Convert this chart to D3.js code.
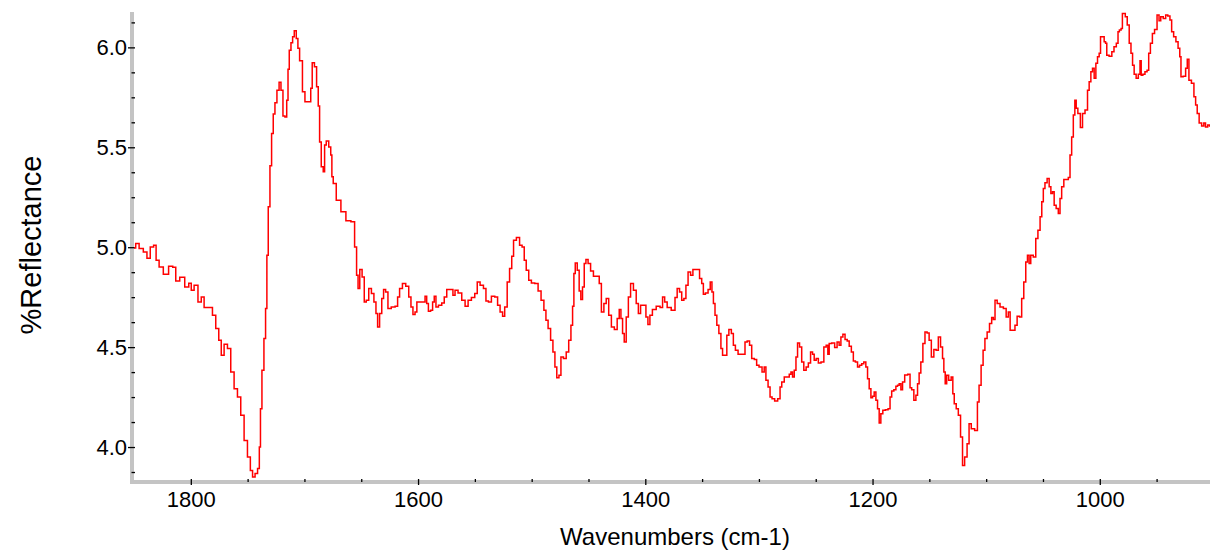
<!DOCTYPE html>
<html>
<head>
<meta charset="utf-8">
<script src="https://cdn.jsdelivr.net/npm/d3@7/dist/d3.min.js"></script>
<style>
  html, body { margin: 0; padding: 0; background: #ffffff; }
  svg { display: block; }
  text { font-family: "Liberation Sans", Arial, sans-serif; fill: #000; }
</style>
</head>
<body>
<svg id="chart" width="1210" height="551"></svg>
<script>
// ---- data ----
const wavenumbers = [
1850,1847,1844,1839.6,1837.6,1833.8,1831.7,1829.4,1826.4,1822,
1817.1,1814.7,1811.8,1807.7,1803,1800.6,1798.6,1795.6,1791.8,1789.8,
1786.8,1782.4,1779.5,1776.6,1774.2,1772.2,1769.2,1766.3,1763.4,1760.4,
1757.5,1754.6,1751.6,1748.7,1746.5,1744.8,1742.1,1740.4,1739,1738.4,
1736.4,1734.9,1733.5,1732.6,1731.1,1729.6,1728.2,1726.7,1725.2,1723.2,
1721.4,1719.9,1717.9,1716.4,1714.8,1714.1,1712.6,1711.1,1709.7,1708.2,
1706.2,1705.3,1703.2,1700.3,1698.8,1695,1693.9,1692.4,1690,1688.6,
1687.1,1686.2,1684.2,1682.7,1681.8,1679.8,1677.4,1676.3,1675.4,1673.9,
1670.1,1665.7,1661.3,1656.9,1654.8,1653.4,1652.2,1650.4,1648.1,1646.6,
1644.6,1642.2,1639.9,1637.8,1636.3,1634.9,1632.8,1631.1,1629.6,1627.5,
1625.5,1621.7,1618.7,1617.3,1615.2,1612.3,1609.4,1607,1605.5,1603.5,
1601.8,1600.3,1594.7,1593,1591.8,1590,1587.9,1586.5,1585,1583.5,
1580.6,1577.7,1576.2,1573.3,1570.3,1568.3,1566.6,1563,1560.1,1557.1,
1554.8,1551.3,1548.9,1546.9,1543.9,1541,1539.5,1536.6,1534.3,1530.7,
1529.3,1526.3,1524.9,1522.6,1520.5,1518.4,1516.7,1515.2,1511.7,1509.6,
1507.3,1505.8,1503.8,1501.4,
1499.1,1495.5,1493.2,1490.3,1488.2,1486.7,1484.4,1482.3,1480.3,1478.8,
1477,1475,1473.5,1470.6,1468.6,1466.2,1464.7,1463.3,1462.4,1460.9,
1458.9,1457.5,1456,1454.5,1453,1451.5,1449.2,1447.1,1444.2,1441.3,
1439.8,1437.5,1435.4,1433.4,1431,1428.7,1425.8,1423.7,1422.2,1420.7,
1419.3,1417.8,1415.8,1414,1411.9,1409,1407,1405.2,1403.1,1400.2,
1398.7,1396.7,1395.2,1392.3,1388.5,1385.5,1384.1,1381.8,1379.7,1374.7,
1373,1370.9,1368.8,1367.1,1365,1363.5,1361.2,1359.1,1357.1,1353.3,
1351.2,1349.5,1348.3,1345.9,1343.6,1342.1,1340.6,1339.5,1337.8,1336.3,
1334.2,1332.7,1331.3,1329,1327.5,1325.4,
1323.1,1321.9,1319.5,1317.2,1313.1,1311.4,1309.3,1307.2,1305.5,1302.6,
1301.4,1298.4,1296.1,1294.6,1293.1,1290.8,1289.6,1287.3,1285,1282,
1280.8,1279,1276.4,1274.1,1272.5,1271.1,1269.7,1268.1,1266.7,1265.3,
1263.2,1261.5,1259.5,1257.4,1255.6,1253.5,1252.1,1250.6,1248.6,1246.8,
1243.9,1241.8,1239.8,1238.9,1237.4,1234.5,1232.2,1230.2,1228.6,1227.1,
1225.1,1223.3,1221.3,1219.8,1217.5,1216.3,1213.9,1212.5,1210.4,1208.7,
1206.7,1205.1,1203.7,1202.2,1200.7,1199.3,1197.8,1196.3,1194.9,1193.4,
1192,1189.9,1187.5,1185.2,1184,1182.3,1180.2,1178.7,1177.3,1175.8,
1174.3,1172.9,1170.5,1167.6,1166.4,1164.7,1162.6,1161.1,1159.7,1158.3,
1156.7,1154.7,1153,1151,1149.4,
1147.1,1145,1143,1141.2,1139.1,1137.7,1136.8,1135.3,1134.2,1131.8,
1129.8,1128.9,1127.3,1125.4,1123.6,1121.5,1120.1,1117.8,1115.8,1114.3,
1111.9,1108.4,1107,1105.5,1103.4,1102,1100.2,1098.1,1096,1094.3,
1093.1,1091.3,1089.3,1086.3,1083.4,1081.4,1079.6,1078.2,1075.5,1073.8,
1071.7,1069.6,1067.9,1065.9,1064.4,1062.9,1061.5,1060,1057.1,1055.6,
1053.3,1051.8,1050.3,1049.1,1047.4,1045.3,1043.8,1042.3,1040.9,1039.4,
1037.4,1035.6,1034.4,1032.7,1030.6,1028.6,1026.8,1025.6,1023.9,1022.7,
1021.2,1020.3,1018.3,1015.9,1014.5,1011.5,1010.1,
1008.6,1007.1,1005.7,1004.2,1002.7,1001.3,999.8,998.9,996.9,995.4,
994.4,993.3,990.3,988.5,986.5,984.4,983.5,982,980.5,979.7,
978.3,976.8,974.9,973.3,971.8,970.5,969,967,965.2,964,
963.1,961.1,959.4,957.4,956.5,954.4,953,950.6,948.6,947.1,
945.6,942.7,941.3,939,937.5,936,934,932,930.2,929,
928.1,925.2,923.7,922.3,920.8,917.9,916.4,914.9,913.6,911.5,
909.2,907.7,906.2,903.9,903
];

const reflectance = [
4.996,5.018,4.993,4.976,4.945,5.001,5.010,4.935,4.901,4.865,
4.905,4.900,4.831,4.850,4.801,4.820,4.785,4.810,4.726,4.751,
4.698,4.698,4.659,4.593,4.534,4.459,4.514,4.493,4.375,4.292,
4.250,4.159,4.033,3.950,3.883,3.850,3.868,3.893,4.000,4.192,
4.384,4.543,4.693,4.960,5.202,5.407,5.569,5.666,5.723,5.786,
5.825,5.786,5.656,5.652,5.736,5.890,5.986,6.023,6.053,6.083,
6.045,5.995,5.933,5.778,5.728,5.728,5.795,5.923,5.903,5.803,
5.706,5.527,5.402,5.377,5.511,5.532,5.502,5.461,5.352,5.319,
5.235,5.177,5.132,5.127,5.001,4.860,4.793,4.888,4.851,4.726,
4.734,4.793,4.768,4.726,4.668,4.601,4.668,4.743,4.788,4.776,
4.693,4.701,4.704,4.751,4.793,4.818,4.805,4.751,4.701,4.663,
4.676,4.726,4.726,4.755,4.718,4.679,4.684,4.726,4.755,4.701,
4.709,4.721,4.751,4.788,4.788,4.760,4.785,4.771,4.734,4.704,
4.734,4.748,4.768,4.826,4.810,4.793,4.731,4.726,4.755,4.751,
4.709,4.676,4.654,4.701,4.826,4.893,4.955,5.035,5.048,5.010,
5.001,4.935,4.885,4.835,
4.821,4.818,4.781,4.734,4.684,4.634,4.593,4.534,4.476,4.400,
4.347,4.359,4.451,4.443,4.476,4.534,4.609,4.704,4.868,4.921,
4.885,4.781,4.738,4.801,4.918,4.938,4.918,4.881,4.855,4.855,
4.818,4.676,4.718,4.743,4.659,4.601,4.588,4.643,4.688,4.643,
4.568,4.526,4.651,4.751,4.818,4.785,4.718,4.668,4.709,4.709,
4.651,4.613,4.659,4.688,4.704,4.698,4.751,4.726,4.698,4.684,
4.748,4.793,4.776,4.734,4.743,4.810,4.876,4.860,4.888,4.888,
4.843,4.818,4.765,4.771,4.788,4.826,4.776,4.718,4.659,4.609,
4.568,4.493,4.459,4.459,4.559,4.588,
4.568,4.509,4.484,4.464,4.464,4.526,4.531,4.509,4.443,4.438,
4.409,4.400,4.375,4.400,4.334,4.300,4.250,4.242,4.230,4.242,
4.300,4.325,4.350,4.350,4.364,4.375,4.350,4.384,4.451,4.521,
4.501,4.425,4.384,4.400,4.420,4.476,4.464,4.434,4.443,4.420,
4.425,4.501,4.509,4.464,4.518,4.521,4.498,4.526,4.509,4.551,
4.564,4.538,4.531,4.504,4.476,4.430,4.425,4.400,4.409,4.417,
4.425,4.400,4.342,4.292,4.247,4.254,4.275,4.234,4.192,4.120,
4.167,4.184,4.187,4.192,4.250,4.280,4.287,4.304,4.309,4.317,
4.287,4.325,4.360,4.364,4.297,4.287,4.234,4.259,4.317,4.370,
4.425,4.518,4.576,4.571,4.534,
4.451,4.488,4.484,4.551,4.501,4.443,4.375,4.317,4.359,4.334,
4.350,4.267,4.217,4.192,4.159,4.050,3.908,3.950,4.017,4.117,
4.092,4.083,4.225,4.309,4.409,4.484,4.543,4.576,4.618,4.648,
4.638,4.734,4.718,4.701,4.693,4.651,4.676,4.584,4.584,4.609,
4.654,4.651,4.743,4.826,4.926,4.960,4.918,4.960,4.951,5.043,
5.085,5.152,5.227,5.294,5.322,5.344,5.302,5.269,5.277,5.210,
5.194,5.169,5.244,5.302,5.339,5.339,5.349,5.461,5.552,5.661,
5.736,5.695,5.669,5.599,5.669,5.686,5.786,
5.828,5.878,5.895,5.845,5.920,5.953,5.970,6.053,6.053,6.028,
6.020,5.961,5.956,5.978,6.003,6.020,6.078,6.087,6.095,6.170,
6.170,6.153,6.112,6.020,5.970,5.911,5.866,5.845,5.866,5.933,
5.861,5.866,5.878,5.886,5.970,6.020,6.070,6.090,6.162,6.133,
6.153,6.145,6.162,6.157,6.137,6.078,6.053,6.028,5.995,5.953,
5.853,5.856,5.895,5.940,5.836,5.820,5.753,5.711,5.669,5.622,
5.606,5.622,5.602,5.611,5.606
];

const xMajorTicks = [1800, 1600, 1400, 1200, 1000];
const xMinorTicks = [1750, 1700, 1650, 1550, 1500, 1450, 1350, 1300, 1250, 1150, 1100, 1050, 950];
const yMajorTicks = [4.0, 4.5, 5.0, 5.5, 6.0];
const yMinorTicks = [3.875, 4.125, 4.25, 4.375, 4.625, 4.75, 4.875, 5.125, 5.25, 5.375, 5.625, 5.75, 5.875, 6.125];
const xTitle = "Wavenumbers (cm-1)";
const yTitle = "%Reflectance";

// ---- layout ----
const W = 1210, H = 551;
const plotL = 134, plotR = 1210, plotT = 12, plotB = 482;
const FONT = '"Liberation Sans", Arial, sans-serif';

const x = d3.scaleLinear().domain([1850, 903]).range([plotL, plotR]);
const y = d3.scaleLinear().domain([3.825, 6.177]).range([plotB, plotT]);

const svg = d3.select("#chart");

const n = Math.min(wavenumbers.length, reflectance.length);
const pts = d3.range(n).map(i => [wavenumbers[i], reflectance[i]]);

svg.append("clipPath").attr("id", "plotclip")
  .append("rect").attr("x", plotL).attr("y", 0).attr("width", plotR - plotL).attr("height", plotB);

// axis bands (gray)
svg.append("line").attr("x1", 132).attr("x2", 132).attr("y1", plotT).attr("y2", plotB + 2)
  .attr("stroke", "#c4c4c4").attr("stroke-width", 4);
svg.append("line").attr("x1", 130).attr("x2", W).attr("y1", plotB).attr("y2", plotB)
  .attr("stroke", "#c4c4c4").attr("stroke-width", 4);

// y axis ticks + labels
const yAxisMajor = d3.axisLeft(y).tickValues(yMajorTicks).tickSize(7).tickPadding(1).tickFormat(d3.format(".1f"));
const yAxisMinor = d3.axisLeft(y).tickValues(yMinorTicks).tickSize(3.5).tickFormat("");
const gy1 = svg.append("g").attr("transform", "translate(135,0)").call(yAxisMajor);
const gy2 = svg.append("g").attr("transform", "translate(135,0)").call(yAxisMinor);
[gy1, gy2].forEach(g => {
  g.select(".domain").remove();
  g.selectAll(".tick line").attr("stroke", "#000").attr("stroke-width", 1.3);
});
gy1.selectAll(".tick text").attr("font-size", 22).attr("font-family", FONT).attr("fill", "#000");

// x axis ticks + labels
const xAxisMajor = d3.axisBottom(x).tickValues(xMajorTicks).tickSize(6).tickPadding(6).tickFormat(d3.format("d"));
const xAxisMinor = d3.axisBottom(x).tickValues(xMinorTicks).tickSize(3).tickFormat("");
const gx1 = svg.append("g").attr("transform", `translate(0,${plotB - 3})`).call(xAxisMajor);
const gx2 = svg.append("g").attr("transform", `translate(0,${plotB - 3})`).call(xAxisMinor);
[gx1, gx2].forEach(g => {
  g.select(".domain").remove();
  g.selectAll(".tick line").attr("stroke", "#000").attr("stroke-width", 1.3);
});
gx1.selectAll(".tick text").attr("font-size", 22).attr("font-family", FONT).attr("fill", "#000");

// spectrum line
const line = d3.line()
  .x(d => x(d[0]))
  .y(d => y(d[1]))
  .curve(d3.curveStep);

svg.append("path")
  .datum(pts)
  .attr("clip-path", "url(#plotclip)")
  .attr("fill", "none")
  .attr("stroke", "#ff0000")
  .attr("stroke-width", 1.5)
  .attr("d", line);

// titles
svg.append("text")
  .attr("x", 675).attr("y", 545)
  .attr("text-anchor", "middle")
  .attr("font-size", 24)
  .attr("font-family", FONT)
  .text(xTitle);

svg.append("text")
  .attr("transform", "translate(41,245) rotate(-90)")
  .attr("text-anchor", "middle")
  .attr("font-size", 29)
  .attr("font-family", FONT)
  .text(yTitle);
</script>
</body>
</html>
